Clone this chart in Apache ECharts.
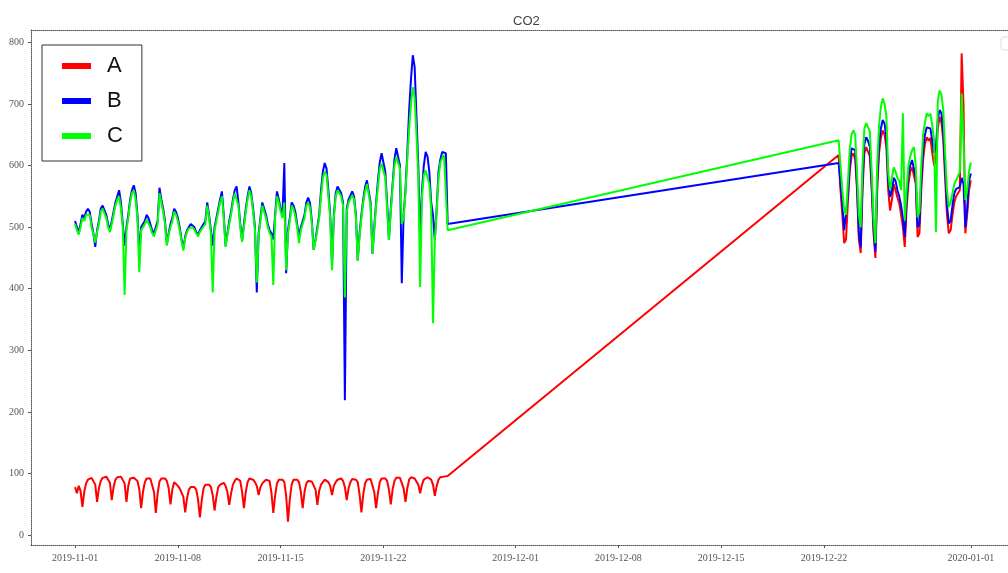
<!DOCTYPE html>
<html>
<head>
<meta charset="utf-8">
<script src="https://cdn.jsdelivr.net/npm/echarts@6/dist/echarts.min.js"></script>
<style>
html, body { margin: 0; padding: 0; background: #ffffff; }
#chart { width: 1008px; height: 573px; }
</style>
</head>
<body>
<div id="chart"></div>
<script>
// CO2 readings of three sensors, sampled every 3 hours (UTC).
const seriesNames = ['A', 'B', 'C'];
const seriesColors = ['#ff0000', '#0000ff', '#00ff00'];
const stepHours = 3;
const novStart = '2019-11-01T00:00:00Z';   // first block: Nov 1 00:00 .. Nov 26 09:00
const decStart = '2019-12-23T00:00:00Z';   // second block: Dec 23 00:00 .. Jan 1 00:00

// Sensor A, first block (8 readings per day)
const aNov = [
  78, 68, 80, 72, 46, 70, 84, 90,
  92, 93, 91, 82, 54, 76, 88, 93,
  94, 95, 93, 85, 57, 78, 90, 94,
  96, 95, 94, 84, 54, 80, 92, 95,
  93, 91, 88, 74, 44, 70, 86, 92,
  93, 92, 90, 70, 36, 68, 87, 92,
  93, 92, 88, 76, 50, 74, 86, 84,
  80, 76, 74, 62, 37, 60, 74, 78,
  80, 78, 74, 58, 29, 56, 76, 82,
  84, 82, 78, 65, 40, 62, 78, 82,
  84, 85, 80, 70, 49, 68, 82, 88,
  92, 91, 88, 70, 44, 70, 86, 92,
  93, 90, 86, 80, 65, 78, 84, 86,
  90, 91, 88, 68, 36, 64, 84, 90,
  92, 90, 86, 64, 22, 58, 82, 90,
  91, 90, 86, 70, 44, 70, 84, 88,
  88, 87, 84, 74, 49, 72, 82, 86,
  90, 88, 86, 80, 65, 80, 86, 90,
  92, 92, 88, 78, 57, 76, 86, 91,
  92, 90, 86, 66, 37, 66, 84, 90,
  92, 91, 88, 70, 44, 68, 86, 92,
  93, 92, 88, 74, 50, 74, 88, 93,
  94, 93, 90, 76, 54, 76, 90, 94,
  93, 92, 90, 82, 68, 82, 90, 93,
  94, 93, 90, 82, 64, 80, 90, 94,
  95, 95, 96, 96
];

// Sensor B, first block
const bNov = [
  510, 500, 490, 505, 520, 515, 525, 530,
  525, 505, 490, 468, 495, 510, 530, 535,
  535, 520, 505, 495, 510, 525, 540, 550,
  560, 540, 505, 470, 500, 520, 545, 560,
  568, 555, 520, 455, 500, 505, 510, 520,
  515, 505, 495, 490, 500, 510, 564, 545,
  530, 510, 473, 490, 505, 515, 530, 525,
  515, 500, 480, 465, 485, 495, 500, 505,
  505, 500, 492, 488, 495, 500, 505, 510,
  540, 520, 495, 470, 500, 515, 530, 545,
  558, 520, 470, 490, 510, 525, 545, 560,
  566, 540, 505, 478, 505, 530, 550, 566,
  555, 530, 500, 394, 490, 515, 540, 530,
  520, 505, 495, 490, 480, 520, 558, 545,
  530, 520, 604, 425, 495, 515, 540, 535,
  525, 505, 485, 500, 510, 520, 540, 548,
  539, 510, 463, 480, 500, 520, 560, 590,
  604, 595, 560, 520, 440, 520, 555, 566,
  565, 555, 540, 219, 530, 545, 548, 558,
  550, 520, 446, 490, 520, 545, 565, 576,
  576, 540, 457, 500, 540, 575, 605, 620,
  620, 590, 540, 479, 530, 570, 610, 628,
  628, 600, 409, 520, 560, 620, 690, 740,
  779, 760, 680, 600, 480, 560, 600, 622,
  615, 590, 540, 520, 479, 530, 590, 610,
  622, 625, 620, 505
];

// Sensor C, first block
const cNov = [
  505, 495, 488, 500, 515, 510, 520, 522,
  520, 500, 488, 475, 492, 505, 525, 530,
  528, 515, 500, 492, 505, 520, 535, 545,
  550, 530, 500, 390, 495, 515, 540, 555,
  560, 545, 515, 427, 495, 500, 505, 512,
  510, 500, 490, 485, 495, 505, 555, 540,
  525, 505, 470, 488, 500, 510, 525, 520,
  510, 495, 478, 462, 482, 492, 498, 500,
  500, 496, 490, 485, 492, 497, 500, 505,
  535, 515, 490, 394, 495, 510, 525, 540,
  550, 515, 468, 487, 505, 520, 540, 555,
  558, 535, 500, 476, 500, 525, 545, 560,
  550, 525, 495, 410, 485, 510, 535, 525,
  515, 500, 490, 485, 406, 515, 550, 540,
  525, 515, 540, 430, 490, 510, 535, 530,
  518, 500, 474, 495, 505, 515, 535, 540,
  532, 505, 463, 478, 495, 515, 550, 580,
  590, 585, 550, 515, 430, 515, 550, 560,
  560, 550, 535, 386, 525, 540, 543, 552,
  545, 515, 446, 485, 515, 540, 558, 570,
  570, 535, 457, 495, 535, 565, 595, 603,
  603, 580, 530, 479, 525, 565, 600, 614,
  614, 595, 505, 515, 555, 610, 660, 700,
  727, 710, 650, 580, 403, 550, 585, 592,
  592, 570, 530, 344, 479, 525, 580, 605,
  612, 617, 615, 495
];

// Second block (Dec 23 .. Jan 1)
const aDec = [
  617, 560, 520, 474, 480, 540, 590, 615,
  620, 610, 560, 480, 458, 560, 620, 630,
  628, 615, 560, 490, 450, 560, 620, 645,
  657, 650, 630, 560, 527, 544, 570, 560,
  548, 539, 520, 500, 468, 530, 570, 590,
  597, 600, 570, 484, 490, 560, 610, 635,
  646, 640, 645, 620, 600, 610, 660, 679,
  670, 640, 580, 520, 490, 495, 520, 540,
  550, 555, 560, 782, 700, 490, 520, 560,
  576
];
const bDec = [
  604, 570, 535, 495, 498, 550, 600, 628,
  631, 625, 570, 490, 467, 575, 635, 646,
  640, 630, 570, 500, 460, 575, 635, 660,
  674, 668, 645, 575, 549, 560, 580, 575,
  560, 550, 535, 515, 484, 545, 585, 600,
  609, 612, 580, 500, 505, 575, 625, 650,
  662, 660, 660, 640, 620, 630, 675, 690,
  685, 655, 595, 535, 506, 510, 535, 555,
  562, 565, 565, 580, 570, 500, 530, 575,
  587
];
const cDec = [
  641, 600, 560, 527, 520, 570, 625, 650,
  657, 650, 590, 520, 500, 600, 660, 669,
  666, 655, 590, 515, 474, 600, 665, 695,
  709, 700, 680, 590, 560, 580, 597, 590,
  580, 575, 560, 685, 511, 560, 600, 615,
  625, 630, 600, 516, 525, 600, 650, 670,
  685, 680, 684, 665, 640, 492, 705, 722,
  715, 690, 620, 560, 533, 540, 555, 570,
  576, 578, 590, 717, 640, 544, 560, 590,
  605
];

// Axis ticks
const yTickValues = [0, 100, 200, 300, 400, 500, 600, 700, 800];
const xTickDates = ['2019-11-01', '2019-11-08', '2019-11-15', '2019-11-22',
  '2019-12-01', '2019-12-08', '2019-12-15', '2019-12-22', '2020-01-01'];

// Pair each reading with its sampling time
function timed(start, values) {
  const t0 = Date.parse(start);
  const step = stepHours * 3600 * 1000;
  return values.map((v, i) => [t0 + i * step, v]);
}

const seriesData = [
  timed(novStart, aNov).concat(timed(decStart, aDec)),
  timed(novStart, bNov).concat(timed(decStart, bDec)),
  timed(novStart, cNov).concat(timed(decStart, cDec))
];

const xTickMs = xTickDates.map(d => Date.parse(d + 'T00:00:00Z'));
const pad2 = n => (n < 10 ? '0' : '') + n;
const fmtDate = v => {
  const d = new Date(v);
  return d.getUTCFullYear() + '-' + pad2(d.getUTCMonth() + 1) + '-' + pad2(d.getUTCDate());
};

const frameLine = { show: true, onZero: false, lineStyle: { color: '#555', width: 1, type: 'dotted' } };
const tickFont = { fontFamily: 'Liberation Serif', fontSize: 10, color: '#555' };
const xMin = Date.parse('2019-10-29T00:00:00Z');
const xMax = Date.parse('2020-01-03T12:45:00Z');

const chart = echarts.init(document.getElementById('chart'), null, { renderer: 'canvas' });
chart.setOption({
  animation: false,
  backgroundColor: '#ffffff',
  title: {
    text: 'CO2',
    left: 508,
    top: 10,
    textStyle: { fontFamily: 'Liberation Sans', fontSize: 13, fontWeight: 'normal', color: '#444' }
  },
  legend: {
    data: seriesNames,
    orient: 'vertical',
    left: 42,
    top: 45,
    icon: 'rect',
    itemWidth: 29,
    itemHeight: 6,
    itemGap: 13,
    padding: [10, 19, 14, 20],
    borderColor: '#333',
    borderWidth: 1,
    backgroundColor: '#ffffff',
    textStyle: { fontFamily: 'Liberation Sans', fontSize: 22, color: '#111', padding: [0, 0, 0, 11] }
  },
  grid: { left: 31, right: 0, top: 30, bottom: 28 },
  xAxis: [
    {
      type: 'value',
      min: xMin,
      max: xMax,
      axisLine: frameLine,
      axisTick: { show: true, length: 3, customValues: xTickMs, lineStyle: { color: '#555' } },
      axisLabel: Object.assign({ customValues: xTickMs, margin: 8, formatter: fmtDate }, tickFont),
      splitLine: { show: false }
    },
    {
      type: 'value',
      position: 'top',
      min: xMin,
      max: xMax,
      axisLine: frameLine,
      axisTick: { show: false },
      axisLabel: { show: false },
      splitLine: { show: false }
    }
  ],
  yAxis: {
    type: 'value',
    min: -16,
    max: 820,
    axisLine: frameLine,
    axisTick: { show: true, length: 3, customValues: yTickValues, lineStyle: { color: '#555' } },
    axisLabel: Object.assign({ customValues: yTickValues, margin: 7 }, tickFont),
    splitLine: { show: false }
  },
  graphic: [
    {
      type: 'rect',
      shape: { x: 1001, y: 37, width: 14, height: 13, r: 3 },
      style: { fill: '#ffffff', stroke: '#dddddd', lineWidth: 1 },
      silent: true
    }
  ],
  series: seriesNames.map((name, i) => ({
    name: name,
    type: 'line',
    xAxisIndex: 0,
    data: seriesData[i],
    showSymbol: false,
    symbol: 'none',
    color: seriesColors[i],
    lineStyle: { color: seriesColors[i], width: 2 },
    z: 2 + i
  }))
});
</script>
</body>
</html>
